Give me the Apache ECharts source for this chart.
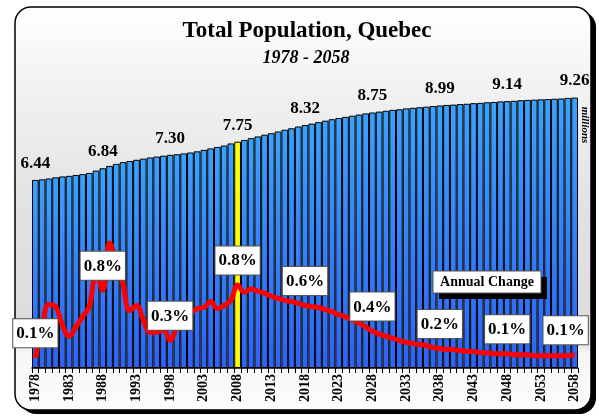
<!DOCTYPE html>
<html>
<head>
<meta charset="utf-8">
<script src="https://cdn.jsdelivr.net/npm/echarts@6/dist/echarts.min.js"></script>
<style>
  html, body { margin: 0; padding: 0; background: #ffffff; }
  #chart { width: 599px; height: 420px; }
</style>
</head>
<body>
<div id="chart"></div>
<script>
// Years 1978 .. 2058
const years = [
  '1978','1979','1980','1981','1982','1983','1984','1985','1986','1987',
  '1988','1989','1990','1991','1992','1993','1994','1995','1996','1997',
  '1998','1999','2000','2001','2002','2003','2004','2005','2006','2007',
  '2008','2009','2010','2011','2012','2013','2014','2015','2016','2017',
  '2018','2019','2020','2021','2022','2023','2024','2025','2026','2027',
  '2028','2029','2030','2031','2032','2033','2034','2035','2036','2037',
  '2038','2039','2040','2041','2042','2043','2044','2045','2046','2047',
  '2048','2049','2050','2051','2052','2053','2054','2055','2056','2057',
  '2058'
];

// Total population, millions
const population = [
  6.44, 6.46, 6.49, 6.53, 6.56, 6.58, 6.61, 6.64, 6.68, 6.76,
  6.84, 6.92, 6.99, 7.05, 7.09, 7.13, 7.17, 7.21, 7.24, 7.27,
  7.30, 7.32, 7.35, 7.38, 7.42, 7.47, 7.52, 7.57, 7.62, 7.69,
  7.75, 7.81, 7.87, 7.93, 7.99, 8.04, 8.10, 8.16, 8.21, 8.27,
  8.32, 8.37, 8.42, 8.47, 8.52, 8.56, 8.60, 8.64, 8.68, 8.72,
  8.75, 8.78, 8.81, 8.84, 8.86, 8.89, 8.91, 8.93, 8.95, 8.97,
  8.99, 9.01, 9.02, 9.04, 9.05, 9.07, 9.08, 9.10, 9.11, 9.13,
  9.14, 9.15, 9.17, 9.18, 9.19, 9.20, 9.21, 9.22, 9.23, 9.25,
  9.26
];

// Annual change, percent
const annualChange = [
  0.10, 0.40, 0.62, 0.60, 0.42, 0.31, 0.40, 0.50, 0.60, 0.92,
  0.76, 1.22, 1.05, 0.82, 0.56, 0.61, 0.47, 0.35, 0.35, 0.37,
  0.27, 0.40, 0.47, 0.53, 0.58, 0.59, 0.65, 0.58, 0.61, 0.66,
  0.81, 0.74, 0.77, 0.75, 0.73, 0.70, 0.68, 0.66, 0.65, 0.63,
  0.61, 0.60, 0.59, 0.57, 0.55, 0.52, 0.50, 0.47, 0.44, 0.40,
  0.36, 0.33, 0.31, 0.29, 0.27, 0.25, 0.24, 0.23, 0.22, 0.20,
  0.19, 0.18, 0.18, 0.17, 0.16, 0.16, 0.15, 0.15, 0.14, 0.14,
  0.14, 0.13, 0.13, 0.13, 0.12, 0.12, 0.12, 0.12, 0.12, 0.12,
  0.13
];

const highlightYear = '2008';
const serif = 'Liberation Serif, Times New Roman, serif';

function isLabelYear(y) { return Number(y) % 10 === 8; }

const chart = echarts.init(document.getElementById('chart'), null, { renderer: 'canvas' });

const barGradient = new echarts.graphic.LinearGradient(0, 0, 0, 1, [
  { offset: 0, color: '#3aa2ff' },
  { offset: 1, color: '#2e62f4' }
]);

const barData = population.map((v, i) => {
  const item = { value: v };
  if (years[i] === highlightYear) item.itemStyle = { color: '#ffff00' };
  if (isLabelYear(years[i])) item.label = { show: true };
  return item;
});

const lineData = annualChange.map((v, i) => {
  const item = { value: v };
  if (isLabelYear(years[i])) item.label = { show: true };
  return item;
});

const lastIndex = annualChange.length - 1;

chart.setOption({
  animation: false,
  backgroundColor: 'transparent',
  graphic: [
    // frame shadow
    { type: 'rect', z: -10, silent: true,
      shape: { x: 20, y: 11, width: 576, height: 403, r: 16 },
      style: { fill: '#000000' } },
    // frame
    { type: 'rect', z: -9, silent: true,
      shape: { x: 15, y: 7, width: 576, height: 403, r: 16 },
      style: {
        fill: new echarts.graphic.LinearGradient(0, 0, 0, 1, [
          { offset: 0, color: '#ffffff' },
          { offset: 0.2, color: '#f2f2f2' },
          { offset: 0.5, color: '#e2e2e2' },
          { offset: 0.82, color: '#dcdcdc' },
          { offset: 0.86, color: '#f6f6f6' },
          { offset: 1, color: '#fcfcfc' }
        ]),
        stroke: '#000000', lineWidth: 1.5
      } },
    // legend box for the growth line
    { type: 'rect', z: 20, silent: true,
      shape: { x: 439, y: 277, width: 108, height: 22 },
      style: { fill: '#000000' } },
    { type: 'rect', z: 21, silent: true,
      shape: { x: 433, y: 271, width: 108, height: 22 },
      style: { fill: '#ffffff', stroke: '#555555', lineWidth: 1 } },
    { type: 'text', z: 22, silent: true,
      x: 487, y: 282,
      style: { text: 'Annual Change', font: 'bold 14px ' + serif, fill: '#000000',
               align: 'center', verticalAlign: 'middle' } },
    // unit label
    { type: 'text', z: 22, silent: true,
      x: 585, y: 125, rotation: -Math.PI / 2,
      style: { text: 'millions', font: 'italic bold 11px ' + serif, fill: '#000000',
               align: 'center', verticalAlign: 'middle' } }
  ],
  title: [
    { text: 'Total Population, Quebec', left: 302, top: 15, textAlign: 'center',
      textStyle: { fontFamily: serif, fontWeight: 'bold', fontSize: 23, color: '#000000' } },
    { text: '1978 - 2058', left: 301, top: 44, textAlign: 'center',
      textStyle: { fontFamily: serif, fontStyle: 'italic', fontWeight: 'bold', fontSize: 18, color: '#000000' } }
  ],
  grid: { left: 32, right: 21, top: 76, bottom: 52, containLabel: false },
  xAxis: {
    type: 'category',
    data: years,
    boundaryGap: true,
    axisLine: { lineStyle: { color: '#000000', width: 1.5 } },
    axisTick: { show: true, interval: 0, length: 5, lineStyle: { color: '#000000', width: 1 } },
    axisLabel: {
      interval: 4, rotate: 90, margin: 6,
      fontFamily: serif, fontWeight: 'bold', fontSize: 14, color: '#000000'
    },
    splitLine: { show: false }
  },
  yAxis: [
    { type: 'value', min: 0, max: 10, show: false, splitLine: { show: false } },
    { type: 'value', min: 0, max: 2.85, show: false, splitLine: { show: false } }
  ],
  series: [
    {
      name: 'Population',
      type: 'bar',
      yAxisIndex: 0,
      data: barData,
      barCategoryGap: '0%',
      itemStyle: { color: barGradient, borderColor: '#000000', borderWidth: 1 },
      label: {
        show: false, position: 'top', distance: 8,
        fontFamily: serif, fontWeight: 'bold', fontSize: 17, color: '#000000',
        formatter: p => p.value.toFixed(2)
      },
      z: 2
    },
    {
      name: 'Annual Change',
      type: 'line',
      yAxisIndex: 1,
      data: lineData,
      smooth: 0.4,
      symbol: 'circle',
      symbolSize: 1,
      showSymbol: true,
      showAllSymbol: true,
      itemStyle: { color: '#ff0000' },
      lineStyle: { color: '#ff0000', width: 5 },
      label: {
        show: false, position: 'top', distance: 10,
        fontFamily: serif, fontWeight: 'bold', fontSize: 17, color: '#000000',
        backgroundColor: '#ffffff', borderColor: '#555555', borderWidth: 1,
        padding: [6, 3, 5, 3],
        formatter: p => p.value.toFixed(1) + '%'
      },
      // keep the last box inside the frame
      labelLayout: p => (p.dataIndex === lastIndex ? { dx: -9, hideOverlap: false } : { hideOverlap: false }),
      z: 5
    }
  ]
});
</script>
</body>
</html>
